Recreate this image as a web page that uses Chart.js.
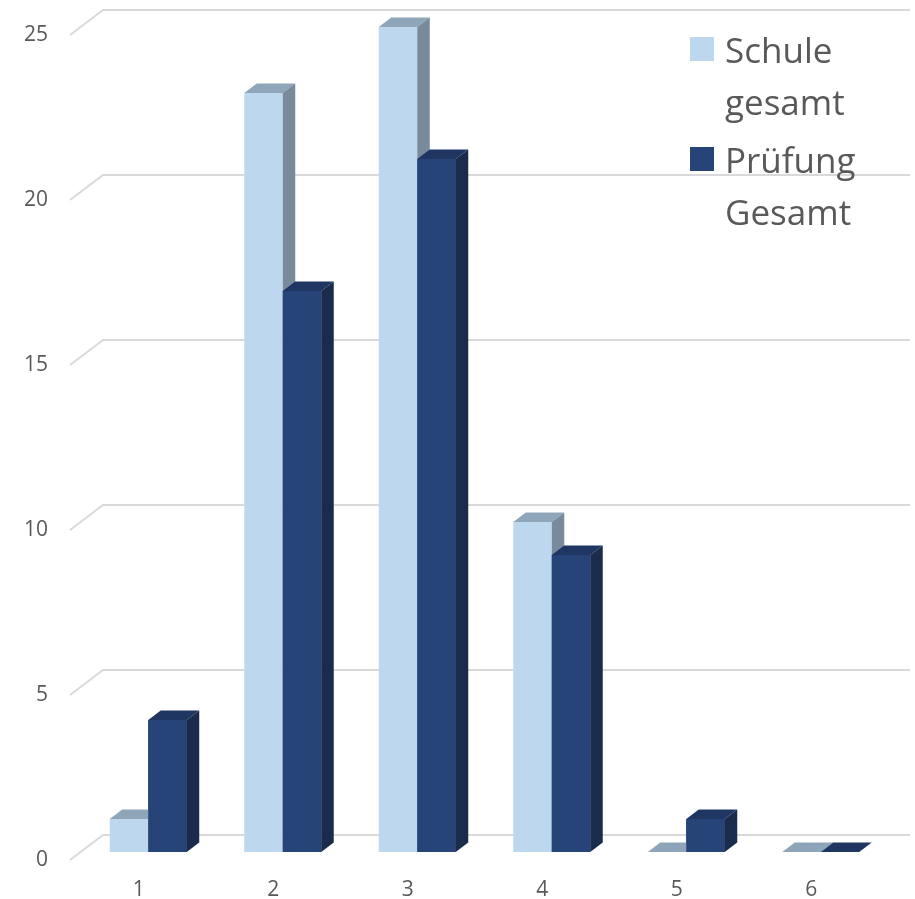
<!DOCTYPE html>
<html>
<head>
<meta charset="utf-8">
<script src="https://cdn.jsdelivr.net/npm/chart.js@4/dist/chart.umd.min.js"></script>
<style>
  html, body { margin: 0; padding: 0; background: #ffffff; }
  #wrap { position: relative; width: 915px; height: 899px; }
</style>
</head>
<body>
<div id="wrap"><canvas id="chart"></canvas></div>
<script>
// Grade categories and counts per series
const categories = ['1', '2', '3', '4', '5', '6'];
const seriesNames = ['Schule gesamt', 'Prüfung Gesamt'];
const schuleGesamt = [1, 23, 25, 10, 0, 0];
const pruefungGesamt = [4, 17, 21, 9, 1, 0];
const yTicks = [0, 5, 10, 15, 20, 25];

// Face colours: front, top, side
const palette = [
  { front: '#BDD7EE', top: '#8FA5B9', side: '#788A9B' },
  { front: '#264478', top: '#1E3661', side: '#1A2B4B' }
];

const TEXT = '#595959';
const GRID = '#D9D9D9';
const FONT = "'Open Sans', 'DejaVu Sans', sans-serif";

// 3D depth of each bar (px), and offsets of back wall / front floor edge relative to the bar plane
const BAR_DX = 12.5, BAR_DY = 9.5;
const WALL_DX = 22, WALL_DY = 17;
const EDGE_DX = 11, EDGE_DY = 8;

function poly(ctx, pts, color) {
  ctx.beginPath();
  ctx.moveTo(pts[0][0], pts[0][1]);
  for (let i = 1; i < pts.length; i++) ctx.lineTo(pts[i][0], pts[i][1]);
  ctx.closePath();
  ctx.fillStyle = color;
  ctx.fill();
}

// Perspective gridlines: a slanted floor segment plus the back-wall line
const gridPlugin = {
  id: 'wallGrid',
  beforeDatasetsDraw(chart) {
    const { ctx, chartArea } = chart;
    const ys = chart.scales.y;
    ctx.save();
    ctx.strokeStyle = GRID;
    ctx.lineWidth = 2;
    ys.ticks.forEach(t => {
      const p = ys.getPixelForValue(t.value);
      ctx.beginPath();
      ctx.moveTo(chartArea.left - EDGE_DX, p + EDGE_DY);
      ctx.lineTo(chartArea.left + WALL_DX, p - WALL_DY);
      ctx.lineTo(chartArea.right + WALL_DX, p - WALL_DY);
      ctx.stroke();
    });
    ctx.restore();
  }
};

// Top and side faces for every bar. Series are layered left to right, so each
// later series redraws its front faces over the previous series' side faces.
const depthPlugin = {
  id: 'barDepth',
  afterDatasetsDraw(chart) {
    const { ctx } = chart;
    ctx.save();
    chart.data.datasets.forEach((ds, i) => {
      const meta = chart.getDatasetMeta(i);
      const colors = palette[i];
      meta.data.forEach(bar => {
        if (i > 0) bar.draw(ctx);
        const { x, y, base, width } = bar.getProps(['x', 'y', 'base', 'width'], true);
        const l = x - width / 2, r = x + width / 2;
        poly(ctx, [[l, y], [r, y], [r + BAR_DX, y - BAR_DY], [l + BAR_DX, y - BAR_DY]], colors.top);
        if (base - y > 0.5) {
          poly(ctx, [[r, y], [r + BAR_DX, y - BAR_DY], [r + BAR_DX, base - BAR_DY], [r, base]], colors.side);
        }
      });
    });
    ctx.restore();
  }
};

// Legend with wrapped series names at the upper right
const legendPlugin = {
  id: 'sideLegend',
  afterDraw(chart) {
    const { ctx } = chart;
    ctx.save();
    ctx.font = '35px ' + FONT;
    ctx.textBaseline = 'alphabetic';
    ctx.textAlign = 'left';
    const lineH = 52, itemH = 110;
    chart.data.datasets.forEach((ds, i) => {
      const baseY = 63 + i * itemH;
      ctx.fillStyle = palette[i].front;
      ctx.fillRect(690, baseY - 26, 24, 24);
      ctx.fillStyle = TEXT;
      ds.label.split(' ').forEach((word, j) => {
        ctx.fillText(word, 725, baseY + j * lineH);
      });
    });
    ctx.restore();
  }
};

new Chart(document.getElementById('chart'), {
  type: 'bar',
  data: {
    labels: categories,
    datasets: [
      { label: seriesNames[0], data: schuleGesamt, backgroundColor: palette[0].front, borderWidth: 0 },
      { label: seriesNames[1], data: pruefungGesamt, backgroundColor: palette[1].front, borderWidth: 0 }
    ]
  },
  options: {
    responsive: true,
    maintainAspectRatio: false,
    animation: false,
    events: [],
    layout: { padding: { top: 27, right: 27, left: 0, bottom: 0 } },
    datasets: { bar: { categoryPercentage: 0.5725, barPercentage: 1 } },
    plugins: { legend: { display: false }, tooltip: { enabled: false } },
    scales: {
      x: {
        grid: { display: false, drawTicks: false },
        border: { display: false },
        ticks: { color: TEXT, font: { family: FONT, size: 21 }, padding: 25, labelOffset: -9.5 },
        afterFit(s) { s.height = 47; s.paddingLeft = 0; s.paddingRight = 0; }
      },
      y: {
        min: 0,
        max: 25,
        afterBuildTicks(s) { s.ticks = yTicks.map(v => ({ value: v })); },
        grid: { display: false, drawTicks: false },
        border: { display: false },
        ticks: { color: TEXT, font: { family: FONT, size: 21 }, padding: 33, labelOffset: 8 },
        afterFit(s) { s.width = 81; s.paddingTop = 0; s.paddingBottom = 0; }
      }
    }
  },
  plugins: [gridPlugin, depthPlugin, legendPlugin]
});
</script>
</body>
</html>
